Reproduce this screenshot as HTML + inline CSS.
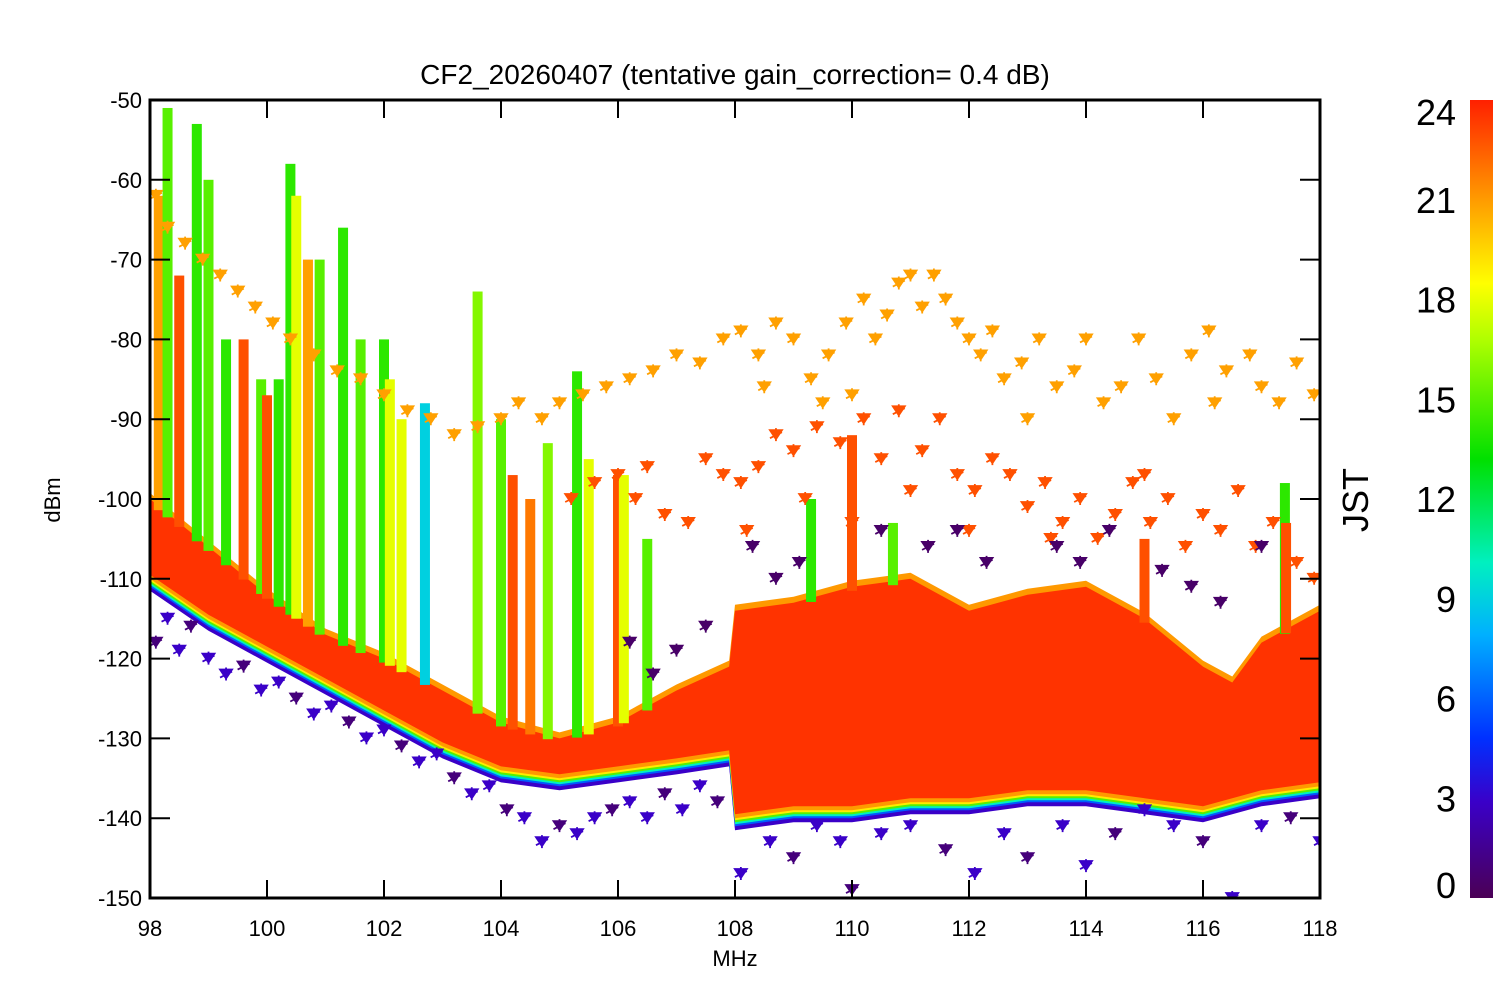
<!DOCTYPE html>
<html><head><meta charset="utf-8"><style>
html,body{margin:0;padding:0;background:#fff;}
svg{display:block;font-family:"Liberation Sans",Arial,sans-serif;}
</style></head><body>
<svg id="chart" width="1500" height="1000" viewBox="0 0 1500 1000" xmlns="http://www.w3.org/2000/svg">
<defs>
<linearGradient id="cbar" x1="0" y1="1" x2="0" y2="0">
<stop offset="0" stop-color="#4b0055"/>
<stop offset="0.12" stop-color="#3a00c8"/>
<stop offset="0.2" stop-color="#0030ff"/>
<stop offset="0.33" stop-color="#00b0ff"/>
<stop offset="0.42" stop-color="#00f0c0"/>
<stop offset="0.55" stop-color="#00e000"/>
<stop offset="0.7" stop-color="#b0ff00"/>
<stop offset="0.77" stop-color="#ffff00"/>
<stop offset="0.87" stop-color="#ffa000"/>
<stop offset="1" stop-color="#ff2000"/>
</linearGradient>
<clipPath id="plotclip"><rect x="150" y="100" width="1170" height="798"/></clipPath>
</defs>
<text x="735" y="84" font-size="28" text-anchor="middle">CF2_20260407 (tentative gain_correction=  0.4 dB)</text>
<g id="marks" clip-path="url(#plotclip)"></g>
<g id="axes"></g>
<rect x="1470" y="100" width="23" height="798" fill="url(#cbar)"/>
<text transform="translate(1368,500) rotate(-90)" font-size="36" text-anchor="middle">JST</text>
<g id="cbticks"></g>
</svg>
<script>
// ---- data ----
const xTicks = [98,100,102,104,106,108,110,112,114,116,118];
const yTicks = [-50,-60,-70,-80,-90,-100,-110,-120,-130,-140,-150];
const cbTicks = [0,3,6,9,12,15,18,21,24];
const floorFreq  = [98,99,100,101,102,103,104,105,106,107,107.9,108,109,110,111,112,113,114,115,116,116.5,117,118];
const floorUpper = [-100,-106,-112,-117,-120,-124,-128,-130,-128,-124,-121,-114,-113,-111,-110,-114,-112,-111,-115,-121,-123,-118,-114];
const floorLower = [-110,-115,-119,-123,-127,-131,-134,-135,-134,-133,-132,-140,-139,-139,-138,-138,-137,-137,-138,-139,-138,-137,-136];
const spikeFreq = [98.15,98.3,98.5,98.8,99.0,99.3,99.6,99.9,100.0,100.2,100.4,100.5,100.7,100.9,101.3,101.6,102.0,102.1,102.3,102.7,103.6,104.0,104.2,104.5,104.8,105.3,105.5,106.0,106.1,106.5,109.3,110.0,110.7,115.0,117.4,117.42];
const spikeTop  = [-62,-51,-72,-53,-60,-80,-80,-85,-87,-85,-58,-62,-70,-70,-66,-80,-80,-85,-90,-88,-74,-90,-97,-100,-93,-84,-95,-97,-97,-105,-100,-92,-103,-105,-98,-103];
const spikeHour = [21,15,23,14,15,14,23,15,23,14,14,18,21,15,14,15,14,18,18,9,16,15,23,22,16,14,18,23,18,15,14,23,15,23,14,23];
const upperFreq = [98.1,98.3,98.6,98.9,99.2,99.5,99.8,100.1,100.4,100.8,101.2,101.6,102,102.4,102.8,103.2,103.6,104,104.3,104.7,105,105.4,105.8,106.2,106.6,107,107.4,107.8,108.1,108.4,108.7,109,109.3,109.6,109.9,110.2,110.4,110.6,110.8,111,111.2,111.4,111.6,111.8,112,112.2,112.4,112.6,112.9,113.2,113.5,113.8,114,114.3,114.6,114.9,115.2,115.5,115.8,116.1,116.4,116.8,117,117.3,117.6,117.9,116.2,113.0,110.0,109.5,108.5];
const upperDb   = [-62,-66,-68,-70,-72,-74,-76,-78,-80,-82,-84,-85,-87,-89,-90,-92,-91,-90,-88,-90,-88,-87,-86,-85,-84,-82,-83,-80,-79,-82,-78,-80,-85,-82,-78,-75,-80,-77,-73,-72,-76,-72,-75,-78,-80,-82,-79,-85,-83,-80,-86,-84,-80,-88,-86,-80,-85,-90,-82,-79,-84,-82,-86,-88,-83,-87,-88,-90,-87,-88,-86];
const midFreq = [105.2,105.6,106,106.5,106.8,107.2,107.5,107.8,108.1,108.4,108.7,109,109.4,109.8,110.2,110.5,110.8,111.2,111.5,111.8,112.1,112.4,112.7,113,113.3,113.6,113.9,114.2,114.5,114.8,115.1,115.4,115.7,116,116.3,116.6,116.9,117.2,117.6,117.9,108.2,109.2,110,111,112,113.4,115,106.3];
const midDb   = [-100,-98,-97,-96,-102,-103,-95,-97,-98,-96,-92,-94,-91,-93,-90,-95,-89,-94,-90,-97,-99,-95,-97,-101,-98,-103,-100,-105,-102,-98,-103,-100,-106,-102,-104,-99,-106,-103,-108,-110,-104,-100,-103,-99,-104,-105,-97,-100];
const lowFreq = [98.1,98.3,98.5,98.7,99,99.3,99.6,99.9,100.2,100.5,100.8,101.1,101.4,101.7,102,102.3,102.6,102.9,103.2,103.5,103.8,104.1,104.4,104.7,105,105.3,105.6,105.9,106.2,106.5,106.8,107.1,107.4,107.7,108.1,108.6,109,109.4,109.8,110,110.5,111,111.6,112.1,112.6,113,113.6,114,114.5,115,115.5,116,116.5,117,117.5,118];
const lowDb   = [-118,-115,-119,-116,-120,-122,-121,-124,-123,-125,-127,-126,-128,-130,-129,-131,-133,-132,-135,-137,-136,-139,-140,-143,-141,-142,-140,-139,-138,-140,-137,-139,-136,-138,-147,-143,-145,-141,-143,-149,-142,-141,-144,-147,-142,-145,-141,-146,-142,-139,-141,-143,-150,-141,-140,-143];
const nightFreq = [106.2,106.6,107,107.5,108.3,108.7,109.1,110.5,111.3,111.8,112.3,113.5,113.9,114.4,115.3,115.8,116.3,117];
const nightDb   = [-118,-122,-119,-116,-106,-110,-108,-104,-106,-104,-108,-106,-108,-104,-109,-111,-113,-106];

// ---- scales ----
const X0=150,X1=1320,Y0=100,Y1=898;
const xs = f => X0 + (f-98)/(118-98)*(X1-X0);
const ys = v => Y0 + (-50-v)/100*(Y1-Y0);
function hourColor(h){
  const stops=[[0,[75,0,85]],[3,[58,0,200]],[5,[0,48,255]],[8,[0,176,255]],[10,[0,240,192]],[13,[0,224,0]],[17,[176,255,0]],[18.5,[255,255,0]],[21,[255,160,0]],[24,[255,40,0]]];
  for(let i=1;i<stops.length;i++){ if(h<=stops[i][0]){const a=stops[i-1],b=stops[i];const t=(h-a[0])/(b[0]-a[0]);
    const c=a[1].map((v,k)=>Math.round(v+(b[1][k]-v)*t));return `rgb(${c[0]},${c[1]},${c[2]})`;}}
  return 'rgb(255,40,0)';
}
const NS='http://www.w3.org/2000/svg';
function mk(tag,attrs,parent){const e=document.createElementNS(NS,tag);for(const k in attrs)e.setAttribute(k,attrs[k]);parent.appendChild(e);return e;}
const marks=document.getElementById('marks'), axes=document.getElementById('axes'), cb=document.getElementById('cbticks');

function bandPath(offU,offL){
  let d='';
  floorFreq.forEach((f,i)=>{d+=(i?'L':'M')+xs(f)+','+(ys(floorUpper[i])+offU);});
  for(let i=floorFreq.length-1;i>=0;i--){d+='L'+xs(floorFreq[i])+','+(ys(floorLower[i])+offL);}
  return d+'Z';
}
const rims=[[5,8,3],[4,6,3],[3,4,6],[2,2,10],[1,0,15],[0,-2,19]];
rims.forEach(r=>{
  const p=mk('path',{d:bandPath(0,r[1]+4),fill:hourColor(r[2])},marks);
  
  
});
const upRim=mk('path',{d:bandPath(-6,0),fill:'#ff9900'},marks);


const band=mk('path',{d:bandPath(0,-4),fill:'#ff3300'},marks);



function floorAt(f){
  for(let i=1;i<floorFreq.length;i++){if(f<=floorFreq[i]){const t=(f-floorFreq[i-1])/(floorFreq[i]-floorFreq[i-1]);return floorUpper[i-1]+(floorUpper[i]-floorUpper[i-1])*t;}}
  return floorUpper[floorUpper.length-1];
}
spikeFreq.forEach((f,i)=>{
  const top=ys(spikeTop[i]), bot=ys(floorAt(f))+4;
  const r=mk('rect',{x:xs(f)-5,y:top,width:10,height:Math.max(2,bot-top),fill:hourColor(spikeHour[i])},marks);
  
  
});
function marker(f,v,h){
  const x=xs(f),y=ys(v);
  const p=mk('path',{d:`M${x-6},${y-5}L${x+6},${y-5}L${x},${y+4}Z M${x},${y-7}L${x},${y+6} M${x-6},${y+3}L${x+6},${y-3}`,fill:hourColor(h),stroke:hourColor(h),'stroke-width':1.8},marks);
  
  
}
upperFreq.forEach((f,i)=>marker(f,upperDb[i],21));
midFreq.forEach((f,i)=>marker(f,midDb[i],23));
lowFreq.forEach((f,i)=>marker(f,lowDb[i],i%3===0?1:3));
nightFreq.forEach((f,i)=>marker(f,nightDb[i],0.5));

const frame=mk('rect',{x:X0,y:Y0,width:X1-X0,height:Y1-Y0,fill:'none',stroke:'#000','stroke-width':3},axes);


xTicks.forEach(t=>{
  const x=xs(t);
  mk('line',{x1:x,y1:Y1,x2:x,y2:Y1-18,stroke:'#000','stroke-width':2},axes);
  mk('line',{x1:x,y1:Y0,x2:x,y2:Y0+18,stroke:'#000','stroke-width':2},axes);
  const tx=mk('text',{x:x,y:936,'font-size':22,'text-anchor':'middle'},axes);
  tx.textContent=t;
  
  
});
yTicks.forEach(t=>{
  const y=ys(t);
  mk('line',{x1:X0,y1:y,x2:X0+20,y2:y,stroke:'#000','stroke-width':2},axes);
  mk('line',{x1:X1,y1:y,x2:X1-20,y2:y,stroke:'#000','stroke-width':2},axes);
  const tx=mk('text',{x:142,y:y+8,'font-size':22,'text-anchor':'end'},axes);
  tx.textContent=t;
  
  
});
const xl=mk('text',{x:735,y:966,'font-size':22,'text-anchor':'middle'},axes);
xl.textContent='MHz';


const yl=mk('text',{transform:'translate(60,500) rotate(-90)','font-size':22,'text-anchor':'middle'},axes);
yl.textContent='dBm';


cbTicks.forEach(t=>{
  let y=898-t/24*798+13;
  if(t===24) y=125; if(t===0) y=898;
  const tx=mk('text',{x:1456,y:y,'font-size':36,'text-anchor':'end'},cb);
  tx.textContent=t;
  
  
});
</script>
</body></html>
